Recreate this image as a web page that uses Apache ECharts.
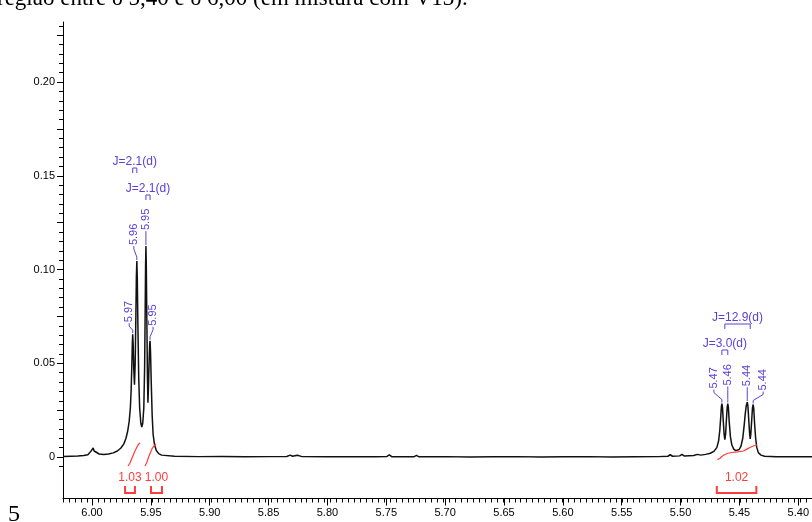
<!DOCTYPE html>
<html>
<head>
<meta charset="utf-8">
<script src="https://cdn.jsdelivr.net/npm/echarts@6/dist/echarts.min.js"></script>
<style>
  html, body { margin: 0; padding: 0; background: #fff; }
  #chart { width: 812px; height: 522px; }
</style>
</head>
<body>
<div id="chart"></div>
<script>
// 1H NMR trace, 5.39 – 6.02 ppm
const shiftPpm = [
  6.0246, 6.0180, 6.0120, 6.0070, 6.0035, 6.0010, 5.9990, 5.9982, 5.9972, 5.9960,
  5.9940, 5.9900, 5.9860, 5.9820, 5.9785, 5.9755, 5.9730, 5.9712, 5.9697, 5.9685,
  5.9675, 5.9668, 5.9662, 5.9658, 5.9655, 5.9651, 5.9646, 5.9640, 5.9634, 5.9628,
  5.9624, 5.9620, 5.9616, 5.9611, 5.9604, 5.9596, 5.9586, 5.9578, 5.9570, 5.9561,
  5.9554, 5.9549, 5.9546, 5.9543, 5.9540, 5.9535, 5.9530, 5.9526, 5.9521, 5.9515,
  5.9511, 5.9508, 5.9504, 5.9498, 5.9490, 5.9482, 5.9470, 5.9455, 5.9435, 5.9410,
  5.9300, 5.9100, 5.8900, 5.8700, 5.8500, 5.8350, 5.8320, 5.8300, 5.8260, 5.8220,
  5.8000, 5.7800, 5.7600, 5.7500, 5.7480, 5.7460, 5.7270, 5.7250, 5.7230, 5.7000,
  5.6800, 5.6600, 5.6400, 5.6200, 5.6000, 5.5800, 5.5600, 5.5400, 5.5200, 5.5120,
  5.5100, 5.5080, 5.5020, 5.5000, 5.4980, 5.4900, 5.4870, 5.4840, 5.4800, 5.4760,
  5.4730, 5.4705, 5.4690, 5.4680, 5.4672, 5.4666, 5.4662, 5.4657, 5.4650, 5.4643,
  5.4637, 5.4630, 5.4624, 5.4617, 5.4612, 5.4607, 5.4600, 5.4590, 5.4578, 5.4562,
  5.4545, 5.4530, 5.4515, 5.4500, 5.4485, 5.4473, 5.4464, 5.4455, 5.4447, 5.4441,
  5.4434, 5.4427, 5.4422, 5.4417, 5.4410, 5.4403, 5.4397, 5.4392, 5.4385, 5.4376,
  5.4366, 5.4352, 5.4330, 5.4300, 5.4200, 5.4000, 5.3898
];
const intensity = [
  0.0003, 0.0004, 0.0005, 0.0008, 0.0012, 0.0030, 0.0048, 0.0032, 0.0042, 0.0024,
  0.0016, 0.0013, 0.0016, 0.0022, 0.0032, 0.0048, 0.0070, 0.0100, 0.0140, 0.0190,
  0.0260, 0.0360, 0.0500, 0.0610, 0.0655, 0.0600, 0.0470, 0.0385, 0.0500, 0.0760,
  0.0960, 0.1045, 0.0950, 0.0700, 0.0420, 0.0260, 0.0180, 0.0160, 0.0180, 0.0260,
  0.0480, 0.0800, 0.1020, 0.1125, 0.1030, 0.0720, 0.0420, 0.0290, 0.0380, 0.0530,
  0.0605, 0.0620, 0.0560, 0.0400, 0.0220, 0.0120, 0.0065, 0.0035, 0.0018, 0.0010,
  0.0004, 0.0002, 0.0003, 0.0001, 0.0002, 0.0003, 0.0010, 0.0004, 0.0009, 0.0002,
  0.0001, 0.0002, 0.0001, 0.0003, 0.0011, 0.0002, 0.0002, 0.0009, 0.0001, 0.0002,
  0.0000, 0.0001, 0.0002, 0.0000, 0.0001, 0.0002, 0.0000, 0.0001, 0.0002, 0.0004,
  0.0012, 0.0004, 0.0006, 0.0014, 0.0005, 0.0008, 0.0014, 0.0010, 0.0014, 0.0020,
  0.0030, 0.0050, 0.0085, 0.0140, 0.0210, 0.0270, 0.0285, 0.0265, 0.0190, 0.0120,
  0.0092, 0.0125, 0.0195, 0.0265, 0.0285, 0.0265, 0.0190, 0.0110, 0.0065, 0.0042,
  0.0034, 0.0032, 0.0040, 0.0058, 0.0100, 0.0170, 0.0230, 0.0275, 0.0292, 0.0270,
  0.0195, 0.0125, 0.0096, 0.0120, 0.0190, 0.0260, 0.0280, 0.0260, 0.0180, 0.0100,
  0.0050, 0.0022, 0.0010, 0.0004, 0.0001, 0.0002, 0.0001
];

// picked peaks
const peakPpm    = [5.9655, 5.9620, 5.9543, 5.9508, 5.4662, 5.4612, 5.4447, 5.4397];
const peakHeight = [0.0655, 0.1045, 0.1125, 0.0620, 0.0285, 0.0285, 0.0292, 0.0280];
const peakText   = ['5.97', '5.96', '5.95', '5.95', '5.47', '5.46', '5.44', '5.44'];

// multiplet couplings (bracket spans from / to, in ppm)
const jFromPpm = [5.9655, 5.9543, 5.4637, 5.4662];
const jToPpm   = [5.9620, 5.9508, 5.4422, 5.4612];
const jHz      = [2.1, 2.1, 12.9, 3.0];

// integral regions
const integralFrom  = [5.9720, 5.9500, 5.4705];
const integralTo    = [5.9636, 5.9407, 5.4370];
const integralValue = [1.03, 1.00, 1.02];

// running integral curves
const int1Ppm = [5.9695, 5.9678, 5.9661, 5.9636, 5.9610, 5.9593];
const int1Val = [-0.0048, -0.0032, -0.0005, 0.0032, 0.0064, 0.0075];
const int2Ppm = [5.9551, 5.9534, 5.9517, 5.9492, 5.9475, 5.9458];
const int2Val = [-0.0048, -0.0027, 0.0005, 0.0043, 0.0059, 0.0069];
const int3Ppm = [5.4700, 5.4680, 5.4660, 5.4640, 5.4610, 5.4580, 5.4530, 5.4480, 5.4450, 5.4420, 5.4390, 5.4365];
const int3Val = [-0.0014, -0.0008, 0.0004, 0.0012, 0.0020, 0.0024, 0.0027, 0.0032, 0.0042, 0.0052, 0.0060, 0.0065];

// ---- layout ----
const PX_PER_PPM = 1180, X_AT_6 = 92;      // 6.00 ppm sits at x = 92
const PX_PER_UNIT = 1875, Y_AT_0 = 457;    // zero intensity at y = 457
const X_MAX = 6 + (X_AT_6 - 63) / PX_PER_PPM;
const X_MIN = 6 - (812 - X_AT_6) / PX_PER_PPM;
const Y_MAX = (Y_AT_0 - 22) / PX_PER_UNIT;
const Y_MIN = -(498.5 - Y_AT_0) / PX_PER_UNIT;

const BLUE = '#5b40d6';
const RED = '#ff3b3b';
const INK = '#111';
const SANS = '"Liberation Sans", Arial, sans-serif';

// label offsets from the peak top (px): [dx, dy]
const peakLabelOffset = [[-3.5, -11], [-3, -15], [0, -15], [3, -14], [-8, -14], [0, -17], [0, -15], [10, -13]];
// y of the coupling bracket (px)
const jBracketY = [168, 195, 324, 350];

function box(xmin, xmax, ymin, ymax) {
  return {
    left: X_AT_6 + (6 - xmax) * PX_PER_PPM,
    width: (xmax - xmin) * PX_PER_PPM,
    top: Y_AT_0 - ymax * PX_PER_UNIT,
    height: (ymax - ymin) * PX_PER_UNIT,
    containLabel: false
  };
}

const baseAxis = {
  type: 'value', splitLine: { show: false }, axisLabel: { show: false },
  axisTick: { show: false }, axisLine: { show: false, onZero: false }
};

const grids = [
  box(X_MIN, X_MAX, Y_MIN, Y_MAX),          // plot
  box(X_MIN, X_MAX, Y_MIN, Y_MIN + 0.01),   // x minor ticks
  box(5.40, 6.00, Y_MIN, Y_MIN + 0.01),     // x major ticks + labels
  box(X_MAX - 0.01, X_MAX, -0.005, 0.23),   // y minor ticks
  box(X_MAX - 0.01, X_MAX, 0, 0.225)        // y major ticks + labels
];

const xAxes = [
  Object.assign({}, baseAxis, { gridIndex: 0, inverse: true, min: X_MIN, max: X_MAX,
    axisLine: { show: true, onZero: false, lineStyle: { color: '#000', width: 1 } } }),
  Object.assign({}, baseAxis, { gridIndex: 1, inverse: true, min: 5.39, max: 6.02, interval: 0.005,
    axisTick: { show: true, length: 4, lineStyle: { color: '#000', width: 1 } } }),
  Object.assign({}, baseAxis, { gridIndex: 2, inverse: true, min: 5.40, max: 6.00, interval: 0.05,
    axisTick: { show: true, length: 7, lineStyle: { color: '#000', width: 1 } },
    axisLabel: { show: true, margin: 9, color: '#000', fontFamily: SANS, fontSize: 11,
      formatter: v => v.toFixed(2) } }),
  Object.assign({}, baseAxis, { gridIndex: 3, inverse: true, min: X_MAX - 0.01, max: X_MAX, show: false }),
  Object.assign({}, baseAxis, { gridIndex: 4, inverse: true, min: X_MAX - 0.01, max: X_MAX, show: false })
];

const yAxes = [
  Object.assign({}, baseAxis, { gridIndex: 0, min: Y_MIN, max: Y_MAX,
    axisLine: { show: true, onZero: false, lineStyle: { color: '#000', width: 1 } } }),
  Object.assign({}, baseAxis, { gridIndex: 1, min: Y_MIN, max: Y_MIN + 0.01, show: false }),
  Object.assign({}, baseAxis, { gridIndex: 2, min: Y_MIN, max: Y_MIN + 0.01, show: false }),
  Object.assign({}, baseAxis, { gridIndex: 3, min: -0.005, max: 0.23, interval: 0.005,
    axisTick: { show: true, length: 4, lineStyle: { color: '#000', width: 1 } } }),
  Object.assign({}, baseAxis, { gridIndex: 4, min: 0, max: 0.225, interval: 0.025,
    axisTick: { show: true, length: 6, lineStyle: { color: '#000', width: 1 } },
    axisLabel: { show: true, margin: 8, color: '#000', fontFamily: SANS, fontSize: 11,
      formatter: v => {
        const k = Math.round(v / 0.025);
        if (k % 2 !== 0) return '';
        return k === 0 ? '0' : v.toFixed(2);
      } } })
];

const zip = (a, b) => a.map((x, i) => [x, b[i]]);

function peakLabelItem(params, api) {
  const i = api.value(2);
  const p = api.coord([api.value(0), api.value(1)]);
  const off = peakLabelOffset[i];
  const lx = p[0] + off[0], ly = p[1] + off[1];
  return {
    type: 'group',
    children: [
      { type: 'polyline',
        shape: { points: [[p[0], p[1] - 1], [p[0], p[1] - 4], [lx, ly + 3], [lx, ly]] },
        style: { stroke: BLUE, lineWidth: 1, fill: null } },
      { type: 'text', x: lx, y: ly - 1, rotation: Math.PI / 2,
        style: { text: peakText[i], fill: BLUE, font: '11px ' + SANS,
          align: 'left', verticalAlign: 'middle', textAlign: 'left', textVerticalAlign: 'middle' } }
    ]
  };
}

function couplingItem(params, api) {
  const i = api.value(3);
  const x1 = api.coord([api.value(0), 0])[0];
  const x2 = api.coord([api.value(2), 0])[0];
  const y = jBracketY[i];
  return {
    type: 'group',
    children: [
      { type: 'polyline', shape: { points: [[x1, y + 5], [x1, y], [x2, y], [x2, y + 5]] },
        style: { stroke: BLUE, lineWidth: 1, fill: null } },
      { type: 'text', x: (x1 + x2) / 2, y: y - 6,
        style: { text: 'J=' + jHz[i].toFixed(1) + '(d)', fill: BLUE, font: '12px ' + SANS,
          align: 'center', verticalAlign: 'middle', textAlign: 'center', textVerticalAlign: 'middle' } }
    ]
  };
}

function integralItem(params, api) {
  const i = api.value(3);
  const x1 = api.coord([api.value(0), 0])[0];
  const x2 = api.coord([api.value(2), 0])[0];
  return {
    type: 'group',
    children: [
      { type: 'polyline', shape: { points: [[x1, 486], [x1, 493], [x2, 493], [x2, 486]] },
        style: { stroke: RED, lineWidth: 2, fill: null } },
      { type: 'text', x: (x1 + x2) / 2, y: 478,
        style: { text: integralValue[i].toFixed(2), fill: RED, font: '12px ' + SANS,
          align: 'center', verticalAlign: 'middle', textAlign: 'center', textVerticalAlign: 'middle' } }
    ]
  };
}

const chart = echarts.init(document.getElementById('chart'), null, { renderer: 'canvas' });
chart.setOption({
  animation: false,
  backgroundColor: '#fff',
  grid: grids,
  xAxis: xAxes,
  yAxis: yAxes,
  series: [
    { type: 'line', xAxisIndex: 0, yAxisIndex: 0, data: zip(shiftPpm, intensity),
      showSymbol: false, silent: true, lineStyle: { color: INK, width: 1.5 } },
    { type: 'line', xAxisIndex: 0, yAxisIndex: 0, data: zip(int1Ppm, int1Val),
      showSymbol: false, silent: true, lineStyle: { color: RED, width: 1.2 } },
    { type: 'line', xAxisIndex: 0, yAxisIndex: 0, data: zip(int2Ppm, int2Val),
      showSymbol: false, silent: true, lineStyle: { color: RED, width: 1.2 } },
    { type: 'line', xAxisIndex: 0, yAxisIndex: 0, data: zip(int3Ppm, int3Val),
      showSymbol: false, silent: true, lineStyle: { color: RED, width: 1.2 } },
    { type: 'custom', xAxisIndex: 0, yAxisIndex: 0, clip: false, silent: true,
      data: peakPpm.map((x, i) => [x, peakHeight[i], i]), renderItem: peakLabelItem },
    { type: 'custom', xAxisIndex: 0, yAxisIndex: 0, clip: false, silent: true,
      data: jFromPpm.map((x, i) => [x, 0, jToPpm[i], i]), renderItem: couplingItem },
    { type: 'custom', xAxisIndex: 0, yAxisIndex: 0, clip: false, silent: true,
      data: integralFrom.map((x, i) => [x, 0, integralTo[i], i]), renderItem: integralItem }
  ],
  graphic: [
    { type: 'text', x: -3, y: 10, silent: true,
      style: { text: 'região entre δ 5,40 e δ 6,00 (em mistura com V13).', fill: '#000',
        font: '23px "Liberation Serif", "Times New Roman", serif',
        align: 'left', verticalAlign: 'bottom', textAlign: 'left', textVerticalAlign: 'bottom' } },
    { type: 'text', x: 8, y: 527, silent: true,
      style: { text: '5', fill: '#000', font: '24px "Liberation Serif", "Times New Roman", serif',
        align: 'left', verticalAlign: 'bottom', textAlign: 'left', textVerticalAlign: 'bottom' } }
  ]
});
</script>
</body>
</html>
